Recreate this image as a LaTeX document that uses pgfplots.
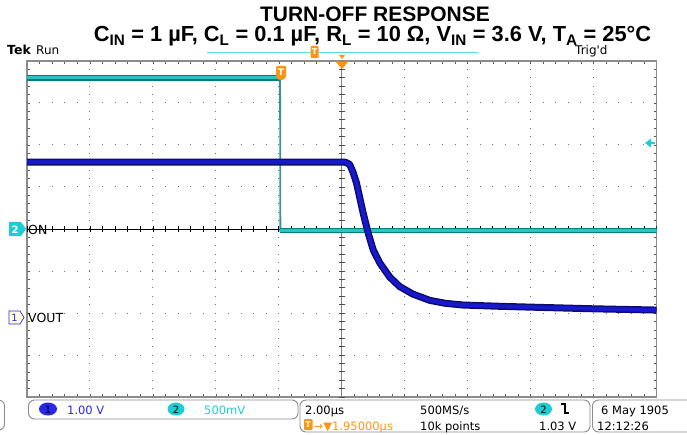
\documentclass[border=0pt]{standalone}
\usepackage{pgfplots}
\pgfplotsset{compat=1.18}
\usepackage{pgfplotstable}
\usepackage{fontspec}
\setmainfont{Liberation Sans}
\newfontfamily\dv{DejaVu Sans}

\definecolor{bluecore}{RGB}{24,24,205}
\definecolor{blueedge}{RGB}{12,12,110}
\definecolor{cyancore}{RGB}{45,195,195}
\definecolor{cyanedge}{RGB}{0,125,128}
\definecolor{chone}{RGB}{40,40,235}
\definecolor{chtwo}{RGB}{30,205,210}
\definecolor{tekorange}{RGB}{250,150,20}
\definecolor{gridc}{RGB}{110,110,110}
\definecolor{boxc}{RGB}{140,140,140}

% Channel 1 (VOUT), time in us, volts
\pgfplotstableread{
t      v
-10.00 3.69
0.12   3.69
0.25   3.64
0.36   3.45
0.47   3.19
0.68   2.48
0.84   2.00
1.00   1.60
1.21   1.29
1.53   0.95
1.84   0.73
2.26   0.55
2.80   0.40
3.30   0.33
3.85   0.29
5.00   0.26
5.98   0.24
8.00   0.20
10.00  0.17
}\chonetab

% Channel 2 (ON), time in us, volts
\pgfplotstableread{
t      v
-10.00 1.80
-1.96  1.80
-1.95  -0.02
10.00  -0.02
}\chtwotab

\begin{document}
\begin{tikzpicture}
\useasboundingbox (0,0) rectangle (687pt,434pt);

\begin{axis}[
  at={(27pt,37pt)}, anchor=south west,
  width=629.5pt, height=336pt, scale only axis,
  xmin=-10, xmax=10, ymin=-4, ymax=4,
  xtick={-10,-8,...,10}, ytick={-4,-3,...,4},
  minor x tick num=4, minor y tick num=4,
  xticklabels={}, yticklabels={},
  major tick length=3pt, minor tick length=3pt,
  tick style={black!65, line width=0.6pt},
  axis line style={black!45, line width=1.3pt},
]
% dotted graticule
\pgfplotsinvokeforeach{-3,-2,-1,1,2,3}{
  \draw[gridc, line width=1pt, dash pattern=on 1pt off 11.59pt, dash phase=0.5pt]
    (axis cs:-10,#1) -- (axis cs:10,#1);
}
\pgfplotsinvokeforeach{-8,-6,-4,-2,2,4,6,8}{
  \draw[gridc, line width=1pt, dash pattern=on 1pt off 7.4pt, dash phase=0.5pt]
    (axis cs:#1,-4) -- (axis cs:#1,4);
}
% centre cross with fine ticks
\draw[black!50, line width=1.2pt] (axis cs:0,-4) -- (axis cs:0,4);
\draw[black!70, line width=6pt, dash pattern=on 0.8pt off 7.6pt, dash phase=0.4pt]
  (axis cs:0,-4) -- (axis cs:0,4);
\draw[black, line width=0.9pt] (axis cs:-10,0) -- (axis cs:10,0);
\draw[black, line width=6pt, dash pattern=on 0.8pt off 11.79pt, dash phase=0.4pt]
  (axis cs:-10,0) -- (axis cs:10,0);

% channel 2 (500 mV/div, ground at centre)
\addplot[cyanedge!80, line width=1.8pt, forget plot] table[x=t, y expr=\thisrow{v}/0.5] {\chtwotab};
\addplot[cyanedge, line width=5.5pt, restrict x to domain=-11:-1.958, forget plot] table[x=t, y expr=\thisrow{v}/0.5] {\chtwotab};
\addplot[cyanedge, line width=4.5pt, restrict x to domain=-1.955:11, forget plot] table[x=t, y expr=\thisrow{v}/0.5] {\chtwotab};
\addplot[cyancore, line width=3pt, restrict x to domain=-11:-1.958, forget plot] table[x=t, y expr=\thisrow{v}/0.5] {\chtwotab};
\addplot[cyancore, line width=2.4pt, restrict x to domain=-1.955:11, forget plot] table[x=t, y expr=\thisrow{v}/0.5] {\chtwotab};

% channel 1 (1 V/div, ground 2.1 div below centre)
\addplot[blueedge, line width=7pt, line join=round, forget plot] table[x=t, y expr=\thisrow{v}-2.1] {\chonetab};
\addplot[bluecore, line width=4pt, line join=round, forget plot] table[x=t, y expr=\thisrow{v}-2.1] {\chonetab};
\end{axis}

% annotations in screen pixel coordinates (y downward)
\begin{scope}[x=1pt, y=-1pt, shift={(0pt,434pt)}]
  % titles
  \node[anchor=base, font=\bfseries\fontsize{21}{21}\selectfont, inner sep=0] at (375,22) {TURN-OFF RESPONSE};
  \node[anchor=base, font=\bfseries\fontsize{21.8}{21.8}\selectfont, inner sep=0] at (372.5,42)
    {C\textsubscript{IN} = 1 µF, C\textsubscript{L} = 0.1 µF, R\textsubscript{L} = 10 Ω, V\textsubscript{IN} = 3.6 V, T\textsubscript{A} = 25°C};
  % header
  \node[anchor=base west, inner sep=0, font=\dv\bfseries\fontsize{12.5}{12.5}\selectfont] at (7,55) {Tek};
  \node[anchor=base west, inner sep=0, font=\dv\fontsize{12}{12}\selectfont] at (36,55) {Run};
  \node[anchor=base west, inner sep=0, font=\dv\fontsize{12}{12}\selectfont] at (575,55) {Trig'd};
  % record bar
  \draw[chtwo!70, line width=1.5pt] (207,52.5) -- (478,52.5);
  \fill[tekorange, rounded corners=1pt] (310.5,46) rectangle (318.5,58);
  \node[white, font=\dv\bfseries\fontsize{8}{8}\selectfont, inner sep=0] at (314.5,52) {T};
  \fill[tekorange] (339,55) -- (345,55) -- (342,59) -- cycle;
  % expansion point and trigger marker
  \fill[tekorange] (335.5,61.5) -- (348.5,61.5) -- (342,69) -- cycle;
  \fill[tekorange, rounded corners=1pt] (276,66) -- (286,66) -- (286,77) -- (283,80) -- (279,80) -- (276,77) -- cycle;
  \node[white, font=\dv\bfseries\fontsize{9}{9}\selectfont, inner sep=0] at (281,72.5) {T};
  % trigger level arrow
  \fill[chtwo] (645,143) -- (651,138.5) -- (651,147.5) -- cycle;
  \draw[chtwo, line width=1.5pt] (650,143) -- (655,143);
  % channel markers
  \fill[chtwo] (9,222) -- (21,222) -- (26,229) -- (21,236) -- (9,236) -- cycle;
  \node[white, font=\dv\bfseries\fontsize{10}{10}\selectfont, inner sep=0] at (15,229.5) {2};
  \node[anchor=west, inner sep=0, font=\dv\fontsize{12.5}{12.5}\selectfont] at (28,229.5) {ON};
  \draw[chone, fill=yellow!15, line width=0.7pt] (9,311) -- (20,311) -- (24,317.5) -- (20,324) -- (9,324) -- cycle;
  \node[chone, font=\dv\fontsize{10}{10}\selectfont, inner sep=0] at (14.5,317.5) {1};
  \node[anchor=west, inner sep=0, font=\dv\fontsize{12.5}{12.5}\selectfont] at (28,318) {VOUT};

  % status boxes
  \draw[boxc, line width=0.9pt, rounded corners=6pt] (-10,400) rectangle (4.5,430);
  \draw[boxc, line width=0.9pt, rounded corners=6pt] (28.5,400) rectangle (298,419);
  \draw[boxc, line width=0.9pt, rounded corners=6pt] (300,400) rectangle (590,432);
  \draw[boxc, line width=0.9pt, rounded corners=6pt] (592.5,400) rectangle (695,432);

  \fill[chone] (48,409) ellipse (9pt and 6.5pt);
  \node[font=\dv\fontsize{10}{10}\selectfont, inner sep=0] at (48,409.5) {1};
  \node[anchor=base west, chone, inner sep=0, font=\dv\fontsize{11.5}{11.5}\selectfont] at (67,414) {1.00 V};
  \fill[chtwo] (176,409) ellipse (8.5pt and 6.5pt);
  \node[font=\dv\fontsize{10}{10}\selectfont, inner sep=0] at (176,409.5) {2};
  \node[anchor=base west, chtwo, inner sep=0, font=\dv\fontsize{11.5}{11.5}\selectfont] at (204,414) {500mV};

  \node[anchor=base west, inner sep=0, font=\dv\fontsize{11.5}{11.5}\selectfont] at (305,414) {2.00µs};
  \node[anchor=base west, inner sep=0, font=\dv\fontsize{11.5}{11.5}\selectfont] at (420,414) {500MS/s};
  \fill[chtwo] (543.5,409) ellipse (8.5pt and 6.5pt);
  \node[font=\dv\fontsize{10}{10}\selectfont, inner sep=0] at (543.5,409.5) {2};
  \draw[black, line width=1.1pt] (561,404) -- (565,404) -- (565,413) -- (569,413);

  \fill[tekorange, rounded corners=0.8pt] (304,419) rectangle (312.5,430);
  \node[white, font=\dv\bfseries\fontsize{8}{8}\selectfont, inner sep=0] at (308.2,424.5) {T};
  \node[anchor=base west, tekorange, inner sep=0, font=\dv\fontsize{11.5}{11.5}\selectfont] at (313.5,430) {→▼1.95000µs};
  \node[anchor=base west, inner sep=0, font=\dv\fontsize{11.5}{11.5}\selectfont] at (420,430) {10k points};
  \node[anchor=base west, inner sep=0, font=\dv\fontsize{11.5}{11.5}\selectfont] at (539,430) {1.03 V};

  \node[anchor=base west, inner sep=0, font=\dv\fontsize{11.5}{11.5}\selectfont] at (601,414) {6 May 1905};
  \node[anchor=base west, inner sep=0, font=\dv\fontsize{11.5}{11.5}\selectfont] at (597,430) {12:12:26};
\end{scope}
\end{tikzpicture}
\end{document}
